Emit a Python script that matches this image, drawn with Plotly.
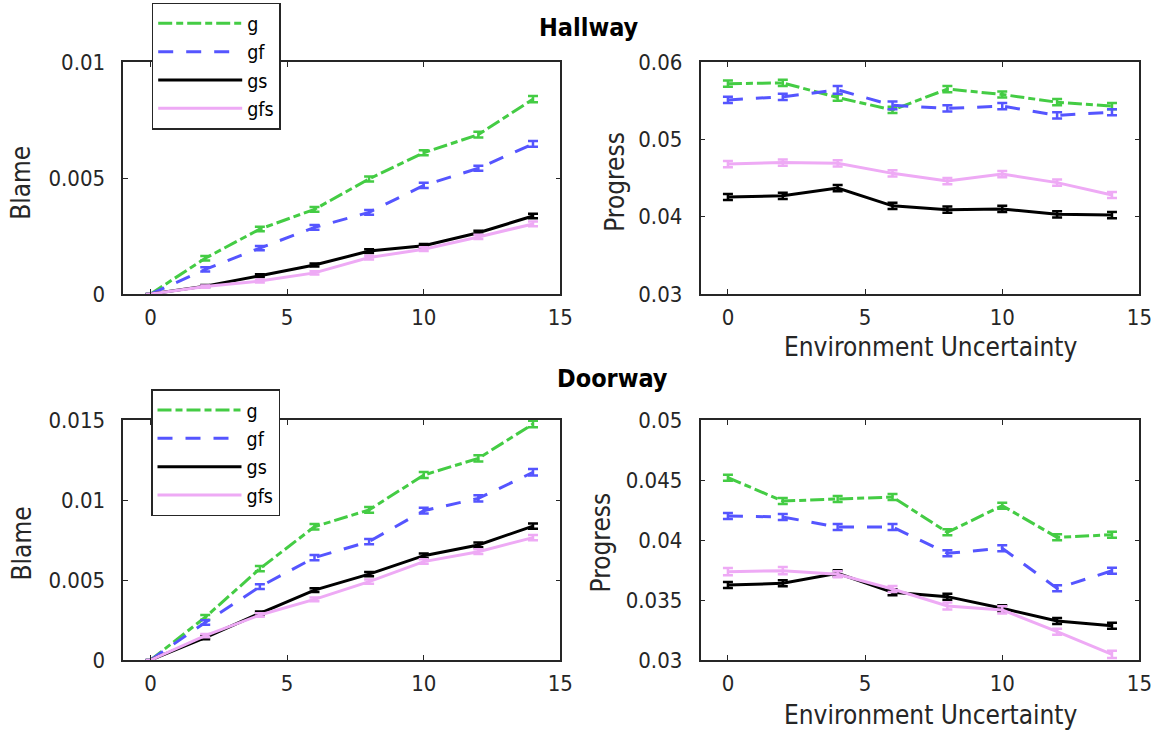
import plotly.graph_objects as go

# ---------------- data ----------------
x_vals = [0, 2, 4, 6, 8, 10, 12, 14]
series_names = ["g", "gf", "gs", "gfs"]

# Hallway - Blame
hall_blame_g = [0, 0.00154, 0.00280, 0.00365, 0.00496, 0.00609, 0.00687, 0.00840]
hall_blame_gf = [0, 0.00106, 0.00198, 0.00287, 0.00352, 0.00468, 0.00542, 0.00647]
hall_blame_gs = [0, 0.00034, 0.00079, 0.00125, 0.00185, 0.00208, 0.00264, 0.00336]
hall_blame_gfs = [0, 0.00032, 0.00056, 0.00091, 0.00157, 0.00193, 0.00246, 0.00302]
hall_blame_err_g = [0, 0.00010, 0.00010, 0.00010, 0.00011, 0.00011, 0.00012, 0.00013]
hall_blame_err_gf = [0, 0.00009, 0.00009, 0.00010, 0.00010, 0.00011, 0.00011, 0.00012]
hall_blame_err_gs = [0, 0.00005, 0.00006, 0.00007, 0.00008, 0.00008, 0.00009, 0.00010]
hall_blame_err_gfs = [0, 0.00005, 0.00006, 0.00007, 0.00008, 0.00008, 0.00009, 0.00010]

# Hallway - Progress
hall_prog_g = [0.0572, 0.0573, 0.0554, 0.0538, 0.0565, 0.0558, 0.0548, 0.0543]
hall_prog_gf = [0.0551, 0.0555, 0.0564, 0.0544, 0.0540, 0.0543, 0.0531, 0.0535]
hall_prog_gs = [0.04254, 0.0427, 0.0437, 0.0414, 0.0409, 0.0410, 0.0403, 0.0402]
hall_prog_gfs = [0.0468, 0.0470, 0.0469, 0.0456, 0.0446, 0.0455, 0.0444, 0.0428]
hall_prog_err_g = [0.0004, 0.0004, 0.0004, 0.0004, 0.0004, 0.0004, 0.0004, 0.0004]
hall_prog_err_gf = [0.0004, 0.0004, 0.0005, 0.0005, 0.0004, 0.0004, 0.0004, 0.0004]
hall_prog_err_gs = [0.0004, 0.0004, 0.0004, 0.0004, 0.0004, 0.0004, 0.0004, 0.0004]
hall_prog_err_gfs = [0.0004, 0.0004, 0.0004, 0.0004, 0.0004, 0.0004, 0.0004, 0.0004]

# Doorway - Blame
door_blame_g = [0, 0.00267, 0.00571, 0.00833, 0.00938, 0.01156, 0.01260, 0.01475]
door_blame_gf = [0, 0.00235, 0.00458, 0.00640, 0.00740, 0.00933, 0.01010, 0.01173]
door_blame_gs = [0, 0.00140, 0.00292, 0.00437, 0.00537, 0.00652, 0.00719, 0.00837]
door_blame_gfs = [0, 0.00152, 0.00281, 0.00379, 0.00490, 0.00615, 0.00677, 0.00765]
door_blame_err_g = [0, 0.00015, 0.00016, 0.00017, 0.00018, 0.00019, 0.00020, 0.00021]
door_blame_err_gf = [0, 0.00014, 0.00015, 0.00016, 0.00017, 0.00018, 0.00019, 0.00020]
door_blame_err_gs = [0, 0.00010, 0.00011, 0.00012, 0.00013, 0.00014, 0.00015, 0.00016]
door_blame_err_gfs = [0, 0.00010, 0.00011, 0.00012, 0.00013, 0.00014, 0.00015, 0.00016]

# Doorway - Progress
door_prog_g = [0.04519, 0.04325, 0.04342, 0.04358, 0.04064, 0.04286, 0.04022, 0.04044]
door_prog_gf = [0.04200, 0.04192, 0.04108, 0.04108, 0.03889, 0.03931, 0.03597, 0.03744]
door_prog_gs = [0.03625, 0.03639, 0.03722, 0.03564, 0.03528, 0.03431, 0.03325, 0.03286]
door_prog_gfs = [0.03736, 0.03744, 0.03714, 0.03592, 0.03450, 0.03417, 0.03236, 0.03047]
door_prog_err_g = [0.00025, 0.00025, 0.00025, 0.00025, 0.00025, 0.00025, 0.00025, 0.00025]
door_prog_err_gf = [0.00025, 0.00025, 0.00025, 0.00025, 0.00025, 0.00025, 0.00025, 0.00025]
door_prog_err_gs = [0.00025, 0.00025, 0.00025, 0.00025, 0.00025, 0.00025, 0.00025, 0.00025]
door_prog_err_gfs = [0.00030, 0.00030, 0.00025, 0.00025, 0.00030, 0.00030, 0.00025, 0.00030]

# ticks
x_tickvals = [0, 5, 10, 15]
x_ticktext = ["0", "5", "10", "15"]
hall_blame_ticks = [0, 0.005, 0.01]
hall_blame_ticktext = ["0", "0.005", "0.01"]
hall_prog_ticks = [0.03, 0.04, 0.05, 0.06]
hall_prog_ticktext = ["0.03", "0.04", "0.05", "0.06"]
door_blame_ticks = [0, 0.005, 0.01, 0.015]
door_blame_ticktext = ["0", "0.005", "0.01", "0.015"]
door_prog_ticks = [0.03, 0.035, 0.04, 0.045, 0.05]
door_prog_ticktext = ["0.03", "0.035", "0.04", "0.045", "0.05"]

# ---------------- style ----------------
W, H = 1160, 736
FONT = "DejaVu Sans Condensed, DejaVu Sans, sans-serif"
AX = "#262626"
colors = {"g": "#44cc44", "gf": "#5555ff", "gs": "#000000", "gfs": "#eeaaf5"}
dashes = {"g": "14px,4px,7px,4px", "gf": "15px,13px", "gs": "solid", "gfs": "solid"}
LW = 3

panels = [
    ("x", "y", "legend",
     {"g": hall_blame_g, "gf": hall_blame_gf, "gs": hall_blame_gs, "gfs": hall_blame_gfs},
     {"g": hall_blame_err_g, "gf": hall_blame_err_gf, "gs": hall_blame_err_gs, "gfs": hall_blame_err_gfs},
     True),
    ("x2", "y2", "legend",
     {"g": hall_prog_g, "gf": hall_prog_gf, "gs": hall_prog_gs, "gfs": hall_prog_gfs},
     {"g": hall_prog_err_g, "gf": hall_prog_err_gf, "gs": hall_prog_err_gs, "gfs": hall_prog_err_gfs},
     False),
    ("x3", "y3", "legend2",
     {"g": door_blame_g, "gf": door_blame_gf, "gs": door_blame_gs, "gfs": door_blame_gfs},
     {"g": door_blame_err_g, "gf": door_blame_err_gf, "gs": door_blame_err_gs, "gfs": door_blame_err_gfs},
     True),
    ("x4", "y4", "legend2",
     {"g": door_prog_g, "gf": door_prog_gf, "gs": door_prog_gs, "gfs": door_prog_gfs},
     {"g": door_prog_err_g, "gf": door_prog_err_gf, "gs": door_prog_err_gs, "gfs": door_prog_err_gfs},
     False),
]

fig = go.Figure()
for xa, ya, leg, data, errs, show in panels:
    for name in series_names:
        fig.add_trace(go.Scatter(
            x=x_vals, y=data[name], name=name, mode="lines",
            xaxis=xa, yaxis=ya, legend=leg, showlegend=show,
            line=dict(color=colors[name], width=LW, dash=dashes[name]),
            error_y=dict(type="data", array=errs[name], visible=True,
                         color=colors[name], thickness=2.5, width=5),
        ))


def px_x(p):
    return p / W


def px_y(p):
    return 1 - p / H


LEFT = [px_x(123.3), px_x(560.3)]
RIGHT = [px_x(700.5), px_x(1139.4)]
TOP = [px_y(294), px_y(62)]
BOT = [px_y(660), px_y(420)]

tickfont = dict(family=FONT, size=22, color=AX)


def xax(domain, anchor):
    return dict(domain=domain, anchor=anchor, range=[-1, 15], tickvals=x_tickvals,
                ticktext=x_ticktext, ticks="inside", ticklen=5, tickwidth=1.2,
                tickcolor=AX, showline=True, linecolor=AX, linewidth=1.5,
                mirror="ticks", showgrid=False, zeroline=False, tickfont=tickfont,
                ticklabelstandoff=3)


def yax(domain, anchor, rng, tv, tt):
    return dict(domain=domain, anchor=anchor, range=rng, tickvals=tv, ticktext=tt,
                ticks="inside", ticklen=5, tickwidth=1.2, tickcolor=AX,
                showline=True, linecolor=AX, linewidth=1.5, mirror="ticks",
                showgrid=False, zeroline=False, tickfont=tickfont,
                ticklabelstandoff=12)


title_font = dict(family=FONT, size=26, color=AX)
bold_font = dict(family=FONT, size=25, color="#000000")

annotations = [
    dict(text="<b>Hallway</b>", x=px_x(588.5), y=px_y(27.2), font=bold_font),
    dict(text="<b>Doorway</b>", x=px_x(612), y=px_y(378.9), font=bold_font),
    dict(text="Blame", x=px_x(21.5), y=px_y(183.3), textangle=-90, font=title_font),
    dict(text="Blame", x=px_x(21.5), y=px_y(544), textangle=-90, font=title_font),
    dict(text="Progress", x=px_x(615.3), y=px_y(181.5), textangle=-90, font=title_font),
    dict(text="Progress", x=px_x(600.5), y=px_y(543), textangle=-90, font=title_font),
    dict(text="Environment Uncertainty", x=px_x(931), y=px_y(346.8), font=title_font),
    dict(text="Environment Uncertainty", x=px_x(931), y=px_y(715.2), font=title_font),
]
for a in annotations:
    a.update(xref="paper", yref="paper", showarrow=False, xanchor="center", yanchor="middle")

legend_common = dict(bgcolor="white", bordercolor=AX, borderwidth=1.5,
                     font=dict(family=FONT, size=19.5, color="#000000"),
                     xanchor="left", yanchor="top", itemwidth=84,
                     tracegroupgap=0)

fig.update_layout(
    width=W, height=H,
    margin=dict(l=0, r=0, t=0, b=0, autoexpand=False),
    paper_bgcolor="white", plot_bgcolor="white",
    font=dict(family=FONT, color=AX),
    xaxis=xax(LEFT, "y"), yaxis=yax(TOP, "x", [0, 0.01], hall_blame_ticks, hall_blame_ticktext),
    xaxis2=xax(RIGHT, "y2"), yaxis2=yax(TOP, "x2", [0.03, 0.06], hall_prog_ticks, hall_prog_ticktext),
    xaxis3=xax(LEFT, "y3"), yaxis3=yax(BOT, "x3", [0, 0.015], door_blame_ticks, door_blame_ticktext),
    xaxis4=xax(RIGHT, "y4"), yaxis4=yax(BOT, "x4", [0.03, 0.05], door_prog_ticks, door_prog_ticktext),
    legend=dict(legend_common, x=px_x(151.7), y=px_y(2.6)),
    legend2=dict(legend_common, x=px_x(151.0), y=px_y(389.3)),
    annotations=annotations,
    showlegend=True,
)

fig.write_html("out.html", post_script="document.body.style.margin='0';",
               config={"displayModeBar": False})
